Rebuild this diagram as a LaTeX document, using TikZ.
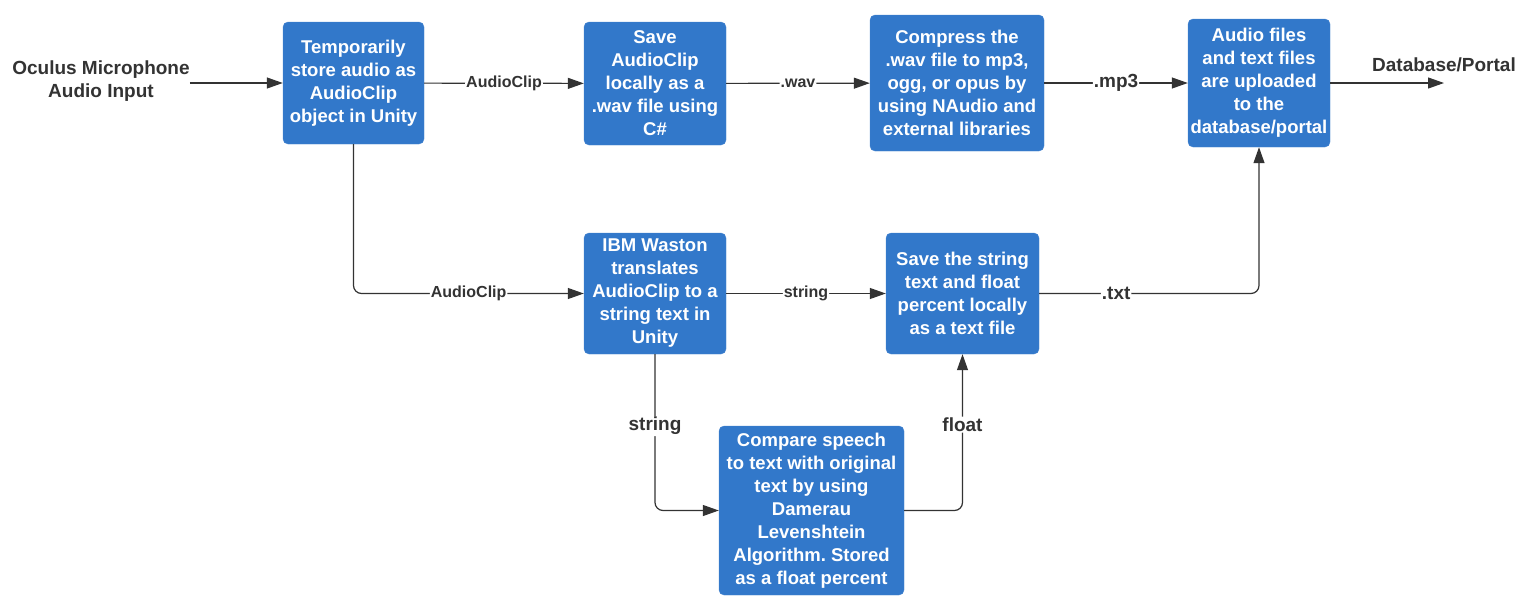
\documentclass[tikz,border=0pt]{standalone}
\usepackage{fontspec}
\setmainfont{Liberation Sans}
\frenchspacing
\usetikzlibrary{arrows.meta, positioning}
\definecolor{stepblue}{RGB}{50,120,202}
\definecolor{linegray}{RGB}{51,51,51}
\tikzset{
    process/.style={
        rectangle, rounded corners=5pt, draw=stepblue!90!white, fill=stepblue, text=white,
        align=center, inner sep=0pt, font=\bfseries\fontsize{18.5}{23}\selectfont
    },
    arrow/.style={
        draw=linegray, line width=1.2pt, rounded corners=8pt,
        -{Triangle[length=16pt, width=11pt]}
    },
    smalllabel/.style={
        fill=white, text=linegray, inner sep=1pt, font=\bfseries\fontsize{16}{19}\selectfont
    },
    biglabel/.style={
        fill=white, text=linegray, inner sep=1pt, font=\bfseries\fontsize{19}{23}\selectfont
    }
}

\begin{document}
\begin{tikzpicture}[x=1pt, y=-1pt]
    \useasboundingbox (0,0) rectangle (1537,611);

    % Input and output
    \node[text=linegray, align=center, inner sep=0pt, font=\bfseries\fontsize{19}{23}\selectfont] (mic) at (101,81) {Oculus Microphone\\Audio Input};
    \coordinate (dbend) at (1444,83);
    \node[text=linegray, inner sep=0pt, font=\bfseries\fontsize{19}{23}\selectfont] (db) at (1444,65) {Database/Portal};

    % Top row
    \node[process, minimum width=141pt, minimum height=122pt] (temp) at (353.5,83) {Temporarily\\store audio as\\AudioClip\\object in Unity};
    \node[process, minimum width=142pt, minimum height=123pt] (savewav) at (655,83.5) {Save\\AudioClip\\locally as a\\.wav file using\\C\#};
    \node[process, minimum width=174pt, minimum height=136pt] (compress) at (957,83) {Compress the\\.wav file to mp3,\\ogg, or opus by\\using NAudio and\\external libraries};
    \node[process, minimum width=142pt, minimum height=128pt] (upload) at (1259,83) {Audio files\\and text files\\are uploaded\\to the\\database/portal};

    % Middle row
    \node[process, minimum width=142pt, minimum height=121pt] (watson) at (655,293.5) {IBM Waston\\translates\\AudioClip to a\\string text in\\Unity};
    \node[process, minimum width=153pt, minimum height=121pt] (savetxt) at (962.5,293.5) {Save the string\\text and float\\percent locally\\as a text file};

    % Bottom row
    \node[process, minimum width=185pt, minimum height=169pt] (compare) at (811.5,510.5) {Compare speech\\to text with original\\text by using\\Damerau\\Levenshtein\\Algorithm. Stored\\as a float percent};

    % Relationships
    \draw[arrow] (mic.east |- temp.west) -- (temp.west);
    \draw[arrow] (temp) -- node[smalllabel] {AudioClip} (savewav);
    \draw[arrow] (savewav) -- node[smalllabel] {.wav} (compress);
    \draw[arrow] (compress) -- node[biglabel] {.mp3} (upload);
    \draw[arrow] (upload) -- (dbend);
    \draw[arrow] (temp.south) |- node[smalllabel, pos=0.75] {AudioClip} (watson.west);
    \draw[arrow] (watson) -- node[smalllabel] {string} (savetxt);
    \draw[arrow] (savetxt.east) -| node[biglabel, pos=0.175] {.txt} (upload.south);
    \draw[arrow] (watson.south) |- node[biglabel, pos=0.23] {string} (compare.west);
    \draw[arrow] (compare.east) -| node[biglabel, pos=0.775] {float} (savetxt.south);

\end{tikzpicture}
\end{document}
